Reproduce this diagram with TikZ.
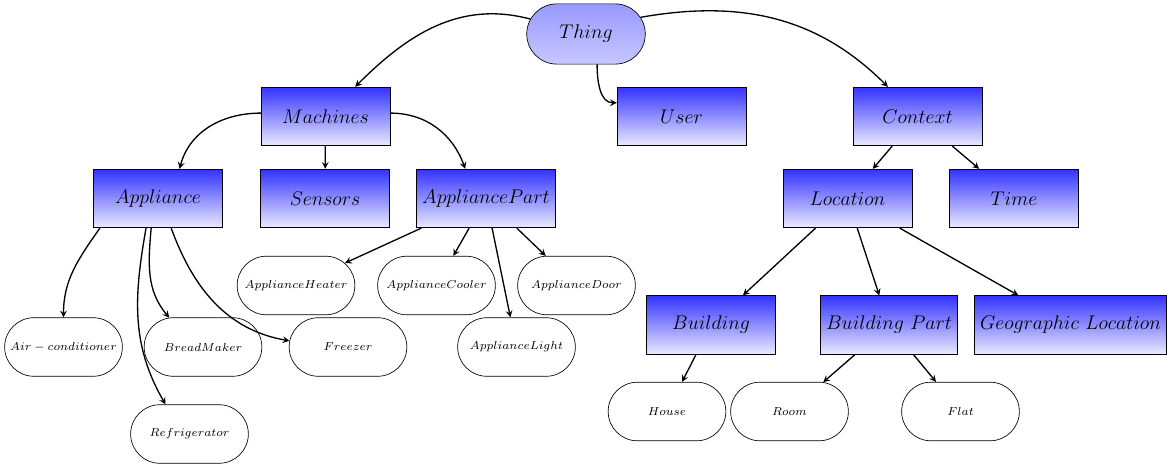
\documentclass[tikz,border=0pt]{standalone}
\usetikzlibrary{shapes.misc,arrows}
\begin{document}
\begin{tikzpicture}[x=0.606pt,y=-0.606pt,line cap=butt,line join=miter,>=stealth]
	\tikzset{
		classbox/.style={draw=black,rectangle,top color=blue!80,bottom color=blue!8,
			minimum width=78pt,minimum height=35.5pt,font=\large},
		rootnode/.style={draw=black,rounded rectangle,top color=blue!40,bottom color=blue!22,
			minimum width=78.5pt,minimum height=36.5pt,font=\large},
		leafnode/.style={draw=black,rounded rectangle,fill=white,
			minimum width=78pt,minimum height=35.5pt,font=\scriptsize},
		isa/.style={->,thick}
	}
	\useasboundingbox (0,0) rectangle (1167,464);
	% top levels
	\node[rootnode] (thing) at (586,34) {$Thing$};
	\node[classbox] (machines) at (325.5,116.5) {$Machines$};
	\node[classbox] (user) at (681.5,116.5) {$User$};
	\node[classbox] (context) at (917.5,116.5) {$Context$};
	\node[classbox] (appliance) at (158,198.5) {$Appliance$};
	\node[classbox] (sensors) at (325,198.5) {$Sensors$};
	\node[classbox] (appliancepart) at (486,198.5) {$AppliancePart$};
	\node[classbox] (location) at (847.5,198.5) {$Location$};
	\node[classbox] (time) at (1014,198.5) {$Time$};
	\node[classbox] (building) at (711,325) {$Building$};
	\node[classbox] (buildingpart) at (889,325) {$Building\ Part$};
	\node[classbox] (geolocation) at (1070.5,325) {$Geographic\ Location$};
	% leaves
	\node[leafnode] (heater) at (296,285.5) {$ApplianceHeater$};
	\node[leafnode] (cooler) at (436.5,285.5) {$ApplianceCooler$};
	\node[leafnode] (door) at (576.5,285.5) {$ApplianceDoor$};
	\node[leafnode] (light) at (516.5,347) {$ApplianceLight$};
	\node[leafnode] (aircon) at (63.5,347) {$Air-conditioner$};
	\node[leafnode] (breadmaker) at (203,347) {$BreadMaker$};
	\node[leafnode] (freezer) at (348,347) {$Freezer$};
	\node[leafnode] (fridge) at (189.5,434) {$Refrigerator$};
	\node[leafnode] (house) at (667,411.5) {$House$};
	\node[leafnode] (room) at (789.5,411.5) {$Room$};
	\node[leafnode] (flat) at (960.5,411.5) {$Flat$};
	% links
	\draw[isa] (thing.165) to[out=165,in=45] (machines.45);
	\draw[isa] (thing.17) to[out=10,in=135] (context.135);
	\draw[isa] (thing.-70) to[out=-90,in=180] (user.168);
	\draw[isa] (machines.177) to[out=180,in=75] (appliance.54);
	\draw[isa] (machines) -- (sensors);
	\draw[isa] (machines.3) to[out=0,in=110] (appliancepart.125);
	\draw[isa] (context) -- (location);
	\draw[isa] (context) -- (time);
	\draw[isa] (appliance.-153) to[out=-125,in=90] (aircon.north);
	\draw[isa] (appliance.-103) to[out=-95,in=130] (breadmaker.139);
	\draw[isa] (appliance.-112) to[out=-100,in=120] (fridge.129);
	\draw[isa] (appliance.-66) to[out=-70,in=170] (freezer.174);
	\draw[isa] (appliancepart) -- (heater);
	\draw[isa] (appliancepart) -- (cooler);
	\draw[isa] (appliancepart) -- (light);
	\draw[isa] (appliancepart) -- (door);
	\draw[isa] (location) -- (building);
	\draw[isa] (location) -- (buildingpart);
	\draw[isa] (location) -- (geolocation);
	\draw[isa] (building) -- (house);
	\draw[isa] (buildingpart) -- (room);
	\draw[isa] (buildingpart) -- (flat);
\end{tikzpicture}
\end{document}
